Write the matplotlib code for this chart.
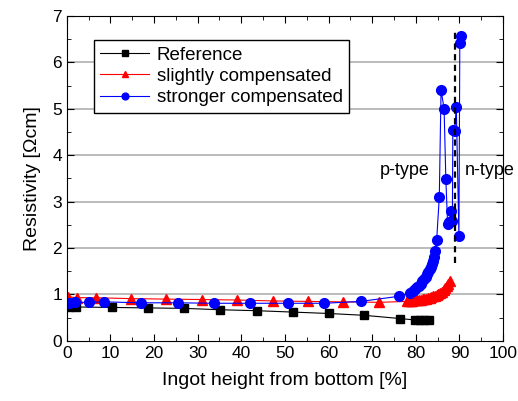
import matplotlib
matplotlib.use("Agg")
import matplotlib.pyplot as plt
from matplotlib.ticker import MultipleLocator

plt.rcParams['font.family'] = ['Liberation Sans', 'DejaVu Sans']

# Reference ingot
ref_x = [0.5, 2.0, 10.4, 18.6, 26.9, 35.2, 43.5, 51.8, 60.0, 68.2, 76.5, 79.8, 81.0, 82.0, 83.0]
ref_y = [0.73, 0.73, 0.72, 0.71, 0.70, 0.67, 0.65, 0.62, 0.59, 0.55, 0.48, 0.45, 0.44, 0.44, 0.44]

# slightly compensated
sl_x = [0.3, 2.4, 6.6, 14.6, 22.7, 31.0, 39.1, 47.3, 55.3, 63.4, 71.6,
        78.0, 78.4, 78.8, 79.2, 79.6, 80.0, 80.4, 80.8, 81.2, 81.6, 82.0, 82.4, 82.8,
        83.2, 83.6, 84.0, 84.4, 84.8, 85.2, 85.6, 86.0, 86.4, 86.8, 87.2, 87.5, 87.8]
sl_y = [0.95, 0.93, 0.93, 0.91, 0.90, 0.89, 0.88, 0.86, 0.85, 0.84, 0.83,
        0.85, 0.85, 0.86, 0.86, 0.87, 0.87, 0.88, 0.88, 0.89, 0.90, 0.90, 0.91, 0.92,
        0.93, 0.94, 0.96, 0.97, 0.99, 1.01, 1.03, 1.06, 1.09, 1.13, 1.18, 1.23, 1.30]

# stronger compensated
st_x = [0.5, 1.8, 5.1, 8.6, 17.1, 25.4, 33.7, 42.1, 50.6, 59.0, 67.4, 76.1,
        78.7, 79.3, 79.8, 80.3, 80.7, 81.1, 81.5, 81.9, 82.3, 82.6, 82.9, 83.2, 83.5,
        83.7, 84.0, 84.2, 84.4, 84.8, 85.4, 85.8, 86.5, 86.9, 87.3, 87.7, 88.1, 88.4,
        88.5, 88.9, 89.3, 89.9, 90.1, 90.3]
st_y = [0.82, 0.83, 0.83, 0.84, 0.82, 0.82, 0.81, 0.81, 0.81, 0.81, 0.85, 0.96,
        1.03, 1.07, 1.11, 1.15, 1.19, 1.23, 1.28, 1.33, 1.38, 1.43, 1.48, 1.54, 1.60,
        1.66, 1.72, 1.80, 1.94, 2.18, 3.10, 5.41, 5.00, 3.49, 2.52, 2.56, 2.79, 2.58,
        4.55, 4.52, 5.04, 2.25, 6.41, 6.56]

# p/n transition marker
pn_x = 89.0
pn_ymin, pn_ymax = 1.68, 6.67

fig = plt.figure(figsize=(5.18, 4.01), dpi=100)
ax = fig.add_axes([0.129, 0.150, 0.842, 0.810])

for yv in range(1, 7):
    ax.axhline(yv, color='#a8a8a8', lw=1.1, zorder=0)

ax.plot(ref_x, ref_y, '-s', color='black', lw=0.8, ms=6, label='Reference')
ax.plot(sl_x, sl_y, '-^', color='red', lw=0.8, ms=7, label='slightly compensated')
ax.plot(st_x, st_y, '-o', color='blue', lw=0.8, ms=7, label='stronger compensated')

ax.vlines(pn_x, pn_ymin, pn_ymax, color='black', lw=1.6, linestyles=[(0, (2.8, 2.0))])

ax.text(77.5, 3.68, 'p-type', fontsize=13, ha='center', va='center')
ax.text(91.2, 3.68, 'n-type', fontsize=13, ha='left', va='center')

ax.set_xlim(0, 100)
ax.set_ylim(0, 7)
ax.xaxis.set_major_locator(MultipleLocator(10))
ax.xaxis.set_minor_locator(MultipleLocator(5))
ax.yaxis.set_major_locator(MultipleLocator(1))
ax.yaxis.set_minor_locator(MultipleLocator(0.5))
ax.tick_params(which='both', direction='in', top=True, right=True, labelsize=12.5)
ax.tick_params(which='major', length=5)
ax.tick_params(which='minor', length=3)

ax.set_xlabel('Ingot height from bottom [%]', fontsize=14, labelpad=8)
ax.set_ylabel('Resistivity [\u03a9cm]', fontsize=14, labelpad=8)

leg = ax.legend(loc='upper left', bbox_to_anchor=(0.062, 0.926), borderaxespad=0,
                fontsize=13.5, fancybox=False, framealpha=1, edgecolor='black',
                handlelength=2.6, borderpad=0.35, labelspacing=0.22, markerscale=0.7,
                handletextpad=0.4)
leg.get_frame().set_linewidth(1.0)

fig.savefig('out.png', dpi=100)
